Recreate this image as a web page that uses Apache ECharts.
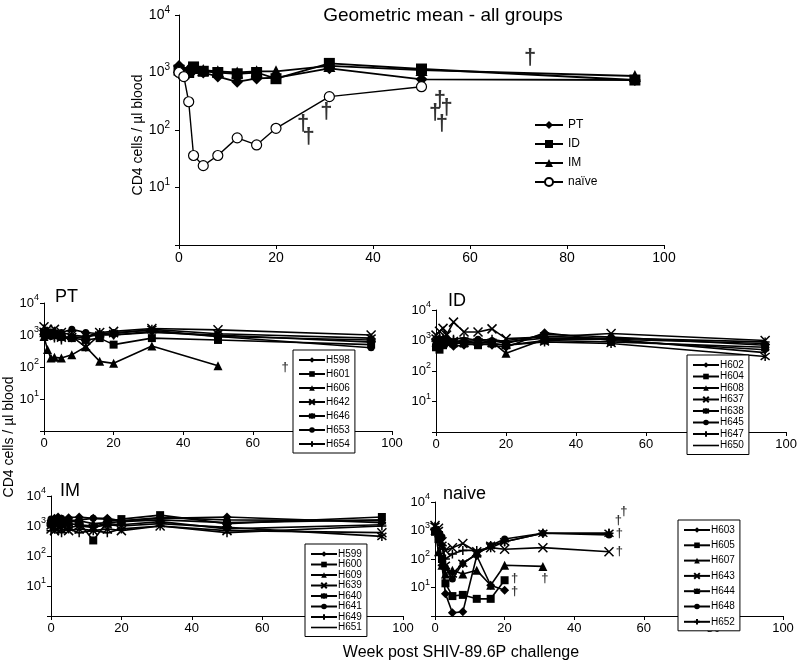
<!DOCTYPE html>
<html><head><meta charset="utf-8">
<script src="https://cdn.jsdelivr.net/npm/echarts@6/dist/echarts.min.js"></script>
<style>html,body{margin:0;padding:0;background:#fff}#c{width:800px;height:668px}</style>
</head><body><div id="c"></div>
<script>
// ---------- DATA ----------
const weeks = [0, 1, 2, 3, 5, 8, 12, 16, 20, 31, 50, 94];
const xTicks = [0, 20, 40, 60, 80, 100];

// Geometric means (top panel)
const gmPT    = [1300, 900, 1100, 1100, 1000, 850, 690, 790, 810, 1180, 760, 740];
const gmID    = [1100, 950, 1000, 1250, 1050, 1000, 950, 1000, 780, 1440, 1150, 740];
const gmIM    = [1250, 1000, 1150, 1200, 1100, 1050, 1000, 1050, 1050, 1300, 1100, 870];
const gmNaive = [1000, 850, 310, 36, 24, 36, 73, 55, 107, 380, 566];
const topDaggers = [[25.6, 130], [26.7, 76], [30.4, 208], [52.8, 195], [53.8, 333], [55.2, 238], [54.2, 130], [72.4, 1770]];

// PT group
const H598 = [1100, 1000, 1200, 1100, 900, 800, 900, 1000, 1000, 1300, 900, 700];
const H601 = [1200, 1100, 1000, 1100, 900, 800, 700, 800, 500, 800, 700, 500];
const H606 = [900, 350, 190, 200, 190, 240, 430, 150, 130, 450, 110];
const H642 = [1800, 1500, 1300, 1500, 1200, 1000, 900, 1200, 1300, 1600, 1450, 1000];
const H646 = [1300, 1100, 1000, 900, 800, 900, 420, 1000, 1100, 1500, 1100, 800];
const H653 = [1000, 1100, 900, 1000, 1200, 1500, 1200, 1100, 1200, 1400, 900, 400];
const H654 = [900, 1000, 1100, 800, 700, 900, 800, 1200, 1000, 1200, 1000, 600];
const ptDaggers = [[69.3, 98]];

// ID group
const H602 = [1000, 800, 900, 800, 650, 700, 800, 700, 600, 1800, 1000, 500];
const H604 = [600, 500, 700, 900, 800, 800, 700, 800, 700, 1000, 900, 600];
const H608 = [900, 1000, 800, 1000, 900, 900, 1000, 900, 380, 1100, 1100, 800];
const H637 = [1500, 2000, 2500, 1500, 4000, 1900, 1900, 2400, 1150, 1300, 1700, 1000];
const H638 = [1200, 1100, 1000, 900, 1000, 800, 900, 800, 700, 900, 800, 300];
const H645 = [900, 1000, 1100, 1200, 900, 1000, 1100, 1000, 800, 1600, 1300, 700];
const H647 = [1100, 1300, 1200, 1000, 1100, 1200, 1000, 1100, 900, 1200, 1200, 900];
const H650 = [800, 900, 1000, 1100, 1000, 900, 800, 900, 1000, 1400, 1100, 400];

// IM group
const H599 = [1500, 1800, 2000, 1700, 1900, 2000, 1800, 1800, 1500, 1800, 2000, 1300];
const H600 = [1200, 1500, 1300, 1400, 1500, 1300, 330, 1400, 1700, 2300, 1200, 2000];
const H609 = [1300, 1600, 1500, 1200, 1400, 1500, 1200, 1300, 1400, 1600, 1300, 1600];
const H639 = [800, 700, 900, 800, 700, 800, 700, 800, 700, 1000, 700, 600];
const H640 = [1000, 900, 1100, 1000, 900, 1000, 900, 1100, 1000, 1200, 900, 450];
const H641 = [1700, 1500, 1600, 1800, 1500, 1600, 1800, 1700, 1500, 1900, 1600, 1500];
const H649 = [700, 800, 700, 600, 800, 600, 700, 600, 800, 1000, 600, 1000];
const H651 = [1100, 1200, 1000, 1100, 1200, 1100, 1000, 1200, 1100, 1400, 800, 1100];

// naive group
const H603 = [1000, 600, 60, 6, 1.3, 1.4, 130, 12, 8];
const H605 = [900, 500, 100, 14, 5, 5.5, 4, 4, 18];
const H607 = [1000, 180, 60, 30, 40, 30, 40, 12, 60, 55];
const H643 = [1500, 1200, 400, 200, 250, 350, 180, 250, 220, 250, 180];
const H644 = [1400, 1000, 300, 60, 30, 70, 150, 300, 400, 800, 800];
const H648 = [1000, 800, 600, 50, 20, 70, 150, 300, 500, 800, 700];
const H652 = [1200, 900, 300, 100, 150, 200, 200, 250, 400, 800, 800];
const naiveDaggers = [[52.7, 2290], [54.3, 4800], [53, 820], [53, 190], [22.9, 21], [22.9, 7], [31.6, 20]];

// ---------- STYLE / LAYOUT ----------
const FF = 'Liberation Sans, Arial, sans-serif';
const SYM = {
  diamond: 'diamond', square: 'rect', triangle: 'triangle', circle: 'circle', open: 'circle',
  x: 'path://M0,0L10,10M10,0L0,10',
  star: 'path://M0,0L10,10M10,0L0,10M5,-1.5L5,11.5',
  plus: 'path://M5,0L5,10M0,5L10,5',
  none: 'none'
};
const strokeSyms = ['x', 'star', 'plus'];
const LINE_ICON = 'path://M0,0L26,0L26,1.6L0,1.6Z';

const grids = [
  {left: 179, top: 15, width: 485, height: 230},
  {left: 44, top: 303, width: 348, height: 128},
  {left: 436, top: 310, width: 354, height: 122},
  {left: 51, top: 496, width: 352, height: 120},
  {left: 435, top: 502, width: 348, height: 114}
];

function pairs(xs, ys) { return ys.map((v, i) => [xs[i], v]); }

function mkX(gi, fs) {
  return {type: 'value', gridIndex: gi, min: 0, max: 100, interval: 20,
    axisLine: {show: true, onZero: false, lineStyle: {color: '#000', width: 1}},
    axisTick: {show: true, length: 4, lineStyle: {color: '#000'}},
    splitLine: {show: false},
    axisLabel: {color: '#000', fontSize: fs, fontFamily: FF, margin: 6}};
}
function mkY(gi, fs, sfs, margin) {
  return {type: 'log', logBase: 10, gridIndex: gi, min: 1, max: 10000, splitNumber: 4,
    axisLine: {show: true, lineStyle: {color: '#000', width: 1}},
    axisTick: {show: true, length: 4, lineStyle: {color: '#000'}},
    splitLine: {show: false}, minorTick: {show: false},
    axisLabel: {margin: margin,
      formatter: v => { if (v <= 1) return ''; const e = Math.round(Math.log10(v)); return '{b|10}{s|' + e + '}'; },
      rich: {
        b: {fontSize: fs, fontFamily: FF, color: '#000', lineHeight: fs + 6},
        s: {fontSize: sfs, fontFamily: FF, color: '#000', verticalAlign: 'top', lineHeight: sfs + 2}
      }}};
}

const series = [];
function addLine(name, xs, ys, symKey, gi, size, lw) {
  const isStroke = strokeSyms.includes(symKey);
  const isOpen = symKey === 'open';
  series.push({
    name, type: 'line', xAxisIndex: gi, yAxisIndex: gi,
    data: pairs(xs, ys),
    symbol: SYM[symKey], symbolSize: size, showSymbol: symKey !== 'none',
    lineStyle: {color: '#000', width: lw},
    itemStyle: {color: isOpen ? '#fff' : '#000', borderColor: '#000',
      borderWidth: isStroke ? 1.5 : (isOpen ? 1.2 : 0)},
    emphasis: {disabled: true}, z: 3
  });
}
function addDaggers(name, pts, gi, fs) {
  series.push({
    name, type: 'scatter', xAxisIndex: gi, yAxisIndex: gi, data: pts,
    symbol: 'circle', symbolSize: 1, itemStyle: {color: 'transparent'},
    label: {show: true, position: 'inside', formatter: '\u2020', color: '#000', fontSize: fs, fontWeight: 'bold', fontFamily: FF},
    emphasis: {disabled: true}, silent: true, z: 4
  });
}

// top
addLine('PT', weeks, gmPT, 'diamond', 0, 12, 1.8);
addLine('ID', weeks, gmID, 'square', 0, 11, 1.8);
addLine('IM', weeks, gmIM, 'triangle', 0, 12, 1.8);
addLine('na\u00efve', weeks, gmNaive, 'open', 0, 10, 1.4);
addDaggers('d0', topDaggers, 0, 22);

const groups = [
  {gi: 1, names: ['H598','H601','H606','H642','H646','H653','H654'], vals: [H598,H601,H606,H642,H646,H653,H654],
   syms: ['diamond','square','triangle','x','star','circle','plus']},
  {gi: 2, names: ['H602','H604','H608','H637','H638','H645','H647','H650'], vals: [H602,H604,H608,H637,H638,H645,H647,H650],
   syms: ['diamond','square','triangle','x','star','circle','plus','none']},
  {gi: 3, names: ['H599','H600','H609','H639','H640','H641','H649','H651'], vals: [H599,H600,H609,H639,H640,H641,H649,H651],
   syms: ['diamond','square','triangle','x','star','circle','plus','none']},
  {gi: 4, names: ['H603','H605','H607','H643','H644','H648','H652'], vals: [H603,H605,H607,H643,H644,H648,H652],
   syms: ['diamond','square','triangle','x','star','circle','plus']}
];
groups.forEach(g => g.names.forEach((n, i) => {
  const s = g.syms[i];
  const size = s === 'square' ? 8 : (s === 'circle' ? 7 : 9);
  addLine(n, weeks, g.vals[i], s, g.gi, size, 1.6);
}));
addDaggers('d1', ptDaggers, 1, 13);
addDaggers('d4', naiveDaggers, 4, 13);

function boxLegend(g, left, top, gap, fs) {
  const data = g.names.map((n, i) => g.syms[i] === 'none' ? {name: n, icon: LINE_ICON} : n);
  return {data, orient: 'vertical', left, top, padding: [5, 5, 4, 5],
    itemWidth: 26, itemHeight: 7, itemGap: gap, borderColor: '#000', borderWidth: 1, backgroundColor: '#fff',
    selectedMode: false, textStyle: {fontSize: fs, fontFamily: FF, color: '#000', lineHeight: 10, padding: [0, 0, 0, -4]}};
}

const option = {
  animation: false,
  backgroundColor: '#fff',
  grid: grids,
  xAxis: [mkX(0, 14), mkX(1, 13), mkX(2, 13), mkX(3, 13), mkX(4, 13)],
  yAxis: [mkY(0, 14, 10, 9), mkY(1, 13, 9, 5), mkY(2, 13, 9, 5), mkY(3, 13, 9, 5), mkY(4, 13, 9, 5)],
  legend: [
    {data: ['PT', 'ID', 'IM', 'na\u00efve'], orient: 'vertical', left: 534, top: 119, padding: 0,
      itemWidth: 28, itemHeight: 10, itemGap: 7, selectedMode: false,
      textStyle: {fontSize: 12, fontFamily: FF, color: '#000', lineHeight: 12}},
    boxLegend(groups[0], 293, 350, 4, 10),
    boxLegend(groups[1], 687, 355, 1.5, 10),
    boxLegend(groups[2], 305, 544, 0.5, 10),
    boxLegend(groups[3], 678, 520, 5.3, 10)
  ],
  graphic: [
    {type: 'text', x: 443, y: 16, style: {text: 'Geometric mean - all groups', fontSize: 19, fontFamily: FF, fill: '#000', textAlign: 'center', textVerticalAlign: 'middle'}},
    {type: 'text', x: 138, y: 135, rotation: Math.PI / 2, style: {text: 'CD4 cells / \u00b5l blood', fontSize: 14, fontFamily: FF, fill: '#000', textAlign: 'center', textVerticalAlign: 'middle'}},
    {type: 'text', x: 9, y: 437, rotation: Math.PI / 2, style: {text: 'CD4 cells / \u00b5l blood', fontSize: 14, fontFamily: FF, fill: '#000', textAlign: 'center', textVerticalAlign: 'middle'}},
    {type: 'text', x: 461, y: 653, style: {text: 'Week post SHIV-89.6P challenge', fontSize: 16, fontFamily: FF, fill: '#000', textAlign: 'center', textVerticalAlign: 'middle'}},
    {type: 'text', x: 55, y: 297, style: {text: 'PT', fontSize: 18, fontFamily: FF, fill: '#000', textAlign: 'left', textVerticalAlign: 'middle'}},
    {type: 'text', x: 448, y: 301, style: {text: 'ID', fontSize: 18, fontFamily: FF, fill: '#000', textAlign: 'left', textVerticalAlign: 'middle'}},
    {type: 'text', x: 60, y: 491, style: {text: 'IM', fontSize: 18, fontFamily: FF, fill: '#000', textAlign: 'left', textVerticalAlign: 'middle'}},
    {type: 'text', x: 443, y: 494, style: {text: 'naive', fontSize: 18, fontFamily: FF, fill: '#000', textAlign: 'left', textVerticalAlign: 'middle'}}
  ],
  series
};
const chart = echarts.init(document.getElementById('c'), null, {renderer: 'canvas'});
chart.setOption(option);
</script>
</body></html>
